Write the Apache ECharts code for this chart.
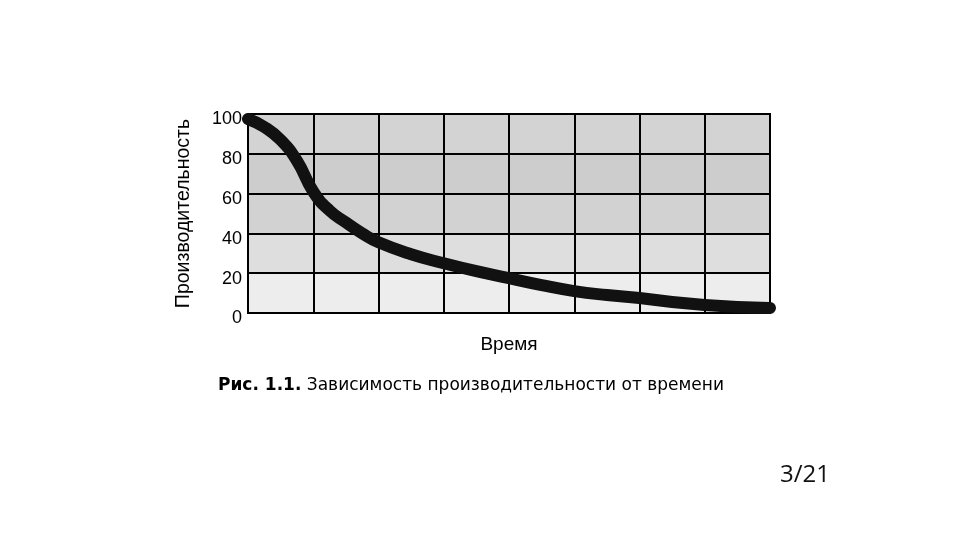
<!DOCTYPE html>
<html><head><meta charset="utf-8">
<script src="https://cdn.jsdelivr.net/npm/echarts@6/dist/echarts.min.js"></script>
<style>html,body{margin:0;padding:0;background:#fff}#c{width:960px;height:540px}</style>
</head><body><div id="c"></div>
<script>
const timeValues = [0, 0.25, 0.5, 0.75, 1, 1.25, 1.5, 1.75, 2, 2.5, 3, 3.5, 4, 4.5, 5, 5.5, 6, 6.5, 7, 7.5, 8];
const productivity = [97.5, 93.5, 87, 76.5, 61, 51.5, 45.5, 40, 35.5, 29.5, 25, 21, 17.5, 14, 11, 9, 7.5, 5.5, 4, 3, 2.5];
const yTicks = [0, 20, 40, 60, 80, 100];
const yAxisTitle = 'Производительность';
const xAxisTitle = 'Время';
const captionBold = 'Рис. 1.1.';
const captionText = ' Зависимость производительности от времени';
const pageNum = '3/21';

const chart = echarts.init(document.getElementById('c'), null, {renderer: 'canvas'});
chart.setOption({
  backgroundColor: '#ffffff',
  animation: false,
  grid: {left: 248, right: 190, top: 114, bottom: 227, show: true, borderColor: '#000', borderWidth: 2},
  title: [
    {
      text: '{b|' + captionBold + '}{r|' + captionText + '}',
      left: 213, top: 372,
      textStyle: {rich: {
        b: {fontFamily: 'DejaVu Sans', fontWeight: 'bold', fontSize: 17, color: '#000'},
        r: {fontFamily: 'DejaVu Sans', fontWeight: 'normal', fontSize: 17, color: '#000'}
      }}
    },
    {
      text: pageNum, left: 775, top: 458,
      textStyle: {fontFamily: 'Open Sans', fontWeight: 'normal', fontSize: 24, color: '#111'}
    }
  ],
  xAxis: {
    type: 'value', min: 0, max: 8, interval: 1,
    name: xAxisTitle, nameLocation: 'middle', nameGap: 22,
    nameTextStyle: {fontFamily: 'Liberation Sans', fontSize: 19, color: '#000'},
    axisLine: {show: true, lineStyle: {color: '#000', width: 2}},
    axisTick: {show: false},
    axisLabel: {show: false},
    splitLine: {show: true, lineStyle: {color: '#000', width: 2}}
  },
  yAxis: {
    type: 'value', min: 0, max: 100, interval: 20,
    name: yAxisTitle, nameLocation: 'middle', nameGap: 54,
    nameTextStyle: {fontFamily: 'Liberation Sans', fontSize: 19.5, color: '#000'},
    axisLine: {show: true, lineStyle: {color: '#000', width: 2}},
    axisTick: {show: false},
    axisLabel: {
      margin: 6,
      formatter: v => yTicks.includes(v) ? '{a|' + v + '}' : '',
      rich: {a: {fontFamily: 'Liberation Sans', fontSize: 18, color: '#000', padding: [11, 0, 0, 0]}}
    },
    splitLine: {show: true, lineStyle: {color: '#000', width: 2}},
    splitArea: {show: true, areaStyle: {color: ['#ededed', '#dedede', '#d2d2d2', '#cdcdcd', '#d3d3d3']}}
  },
  series: [{
    type: 'line', smooth: 0.5, symbol: 'none',
    data: timeValues.map((t, i) => [t, productivity[i]]),
    lineStyle: {color: '#111', width: 12, cap: 'round'}
  }]
});
</script></body></html>
